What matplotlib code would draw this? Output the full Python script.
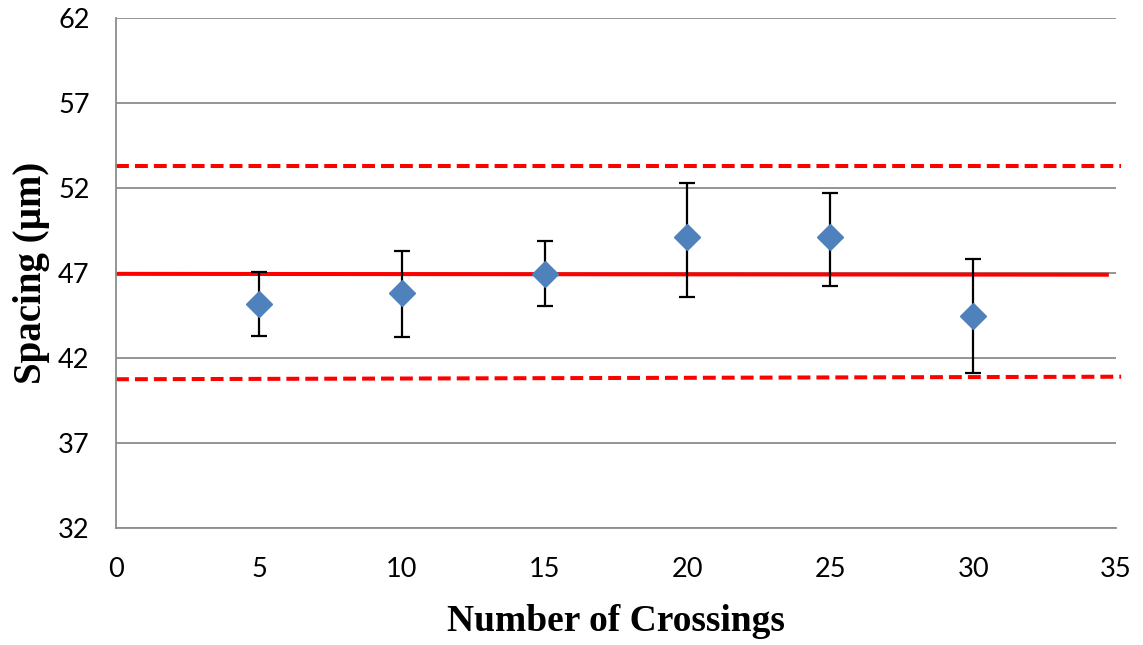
""" spacing vs number of crossings, with mean and limit lines """

import matplotlib
matplotlib.use("Agg")
import matplotlib.pyplot as plt

# data
crossings = [5, 10, 15, 20, 25, 30]
spacing = [45.2, 45.8, 46.95, 49.1, 49.1, 44.5]
err_low = [1.9, 2.55, 1.9, 3.5, 2.85, 3.4]
err_high = [1.85, 2.5, 1.95, 3.2, 2.6, 3.35]

# mean and limit lines (start, end)
mean_x = [0, 34.75]
mean_y = [46.95, 46.9]
limit_x = [0, 35.18]
upper_y = [53.3, 53.3]
lower_y = [40.75, 40.9]

y_ticks = [32, 37, 42, 47, 52, 57, 62]
x_ticks = [0, 5, 10, 15, 20, 25, 30, 35]

###############################################################################
# create the plot
###############################################################################
fig = plt.figure(figsize=(11.43, 6.45), dpi=100)
ax = fig.add_axes([116 / 1143, 1 - 528 / 645, 1000 / 1143, 510 / 645])

grid_color = '#8c8c8c'
for y in y_ticks:
    ax.axhline(y, color=grid_color, lw=1.3, zorder=1)

# mean line and limits
ax.plot(mean_x, mean_y, color='#ff0000', lw=2.9, zorder=2,
        solid_capstyle='butt')
for ys in (upper_y, lower_y):
    ax.plot(limit_x, ys, color='#ff0000', lw=2.9, zorder=2,
            linestyle=(0, (3.2, 1.5)), clip_on=False)

# measured spacing with error bars
ax.errorbar(crossings, spacing, yerr=[err_low, err_high],
            fmt='D', color='#4f81bd', markersize=13.5,
            ecolor='black', elinewidth=1.6, capsize=5.5, capthick=1.6,
            zorder=3)

ax.set_xlim(0, 35)
ax.set_ylim(32, 62)
ax.set_xticks(x_ticks)
ax.set_yticks(y_ticks)
ax.tick_params(length=0, labelsize=19.5)
ax.tick_params(axis='x', pad=21)
ax.tick_params(axis='y', pad=19)
for lab in ax.get_xticklabels() + ax.get_yticklabels():
    lab.set_family('Lato')

for side in ('top', 'right'):
    ax.spines[side].set_visible(False)
for side in ('left', 'bottom'):
    ax.spines[side].set_color(grid_color)
    ax.spines[side].set_linewidth(1.3)

ax.set_xlabel("Number of Crossings", fontsize=27, weight='bold',
              family='Liberation Serif', labelpad=16)
ax.set_ylabel("Spacing (µm)", fontsize=28, weight='bold',
              family='Liberation Serif', labelpad=6)

fig.savefig("out.png", dpi=100)
